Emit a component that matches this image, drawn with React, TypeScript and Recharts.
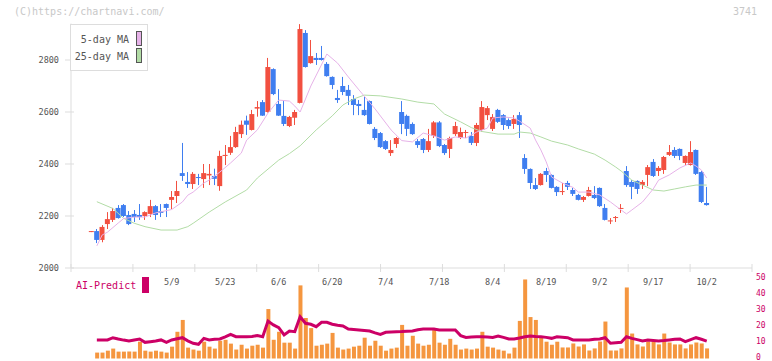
import React from 'react';
import { ComposedChart, Bar, Line, XAxis, YAxis } from 'recharts';

const FONT = '"DejaVu Sans Mono", monospace';
const RED = '#f25040';
const BLUE = '#3f7ef0';
const ORANGE = '#f5963f';
const MAGENTA = '#cc0066';
const PINK = '#e6b2e8';
const GREEN = '#b2dca6';
const AXIS = '#dddddd';

// daily candles, index 0 = 4/15 ... index 115 = 10/2
const opens = [
  2140, 2142, 2108, 2169, 2185, 2231, 2242, 2204, 2208, 2204,
  2200, 2208, 2238, 2219, 2246, 2262, 2277, 2365, 2331, 2323,
  2350, 2342, 2356, 2354, 2315, 2431, 2443, 2465, 2515, 2567,
  2531, 2613, 2638, 2600, 2765, 2631, 2585, 2546, 2578, 2635,
  2904, 2788, 2808, 2808, 2785, 2735, 2654, 2700, 2685, 2650,
  2631, 2608, 2642, 2535, 2519, 2488, 2442, 2477, 2600, 2585,
  2554, 2488, 2496, 2454, 2508, 2560, 2473, 2458, 2515, 2500,
  2521, 2508, 2481, 2531, 2588, 2535, 2608, 2588, 2569, 2554,
  2588, 2423, 2381, 2319, 2319, 2373, 2358, 2312, 2292, 2327,
  2300, 2281, 2262, 2277, 2281, 2308, 2231, 2181, 2195, 2229,
  2373, 2331, 2335, 2319, 2358, 2408, 2373, 2377, 2435, 2454,
  2458, 2404, 2396, 2454, 2369, 2250,
];
const highs = [
  2142, 2150, 2165, 2215, 2231, 2242, 2246, 2219, 2223, 2246,
  2218, 2262, 2242, 2246, 2248, 2296, 2335, 2481, 2369, 2369,
  2362, 2400, 2400, 2382, 2451, 2473, 2508, 2543, 2567, 2586,
  2608, 2642, 2646, 2808, 2768, 2688, 2642, 2585, 2608, 2938,
  2915, 2877, 2827, 2854, 2792, 2737, 2685, 2735, 2704, 2665,
  2646, 2658, 2644, 2542, 2523, 2492, 2492, 2504, 2642, 2590,
  2560, 2496, 2500, 2535, 2565, 2565, 2477, 2505, 2562, 2540,
  2531, 2523, 2558, 2642, 2623, 2592, 2612, 2592, 2575, 2588,
  2600, 2438, 2383, 2346, 2365, 2385, 2360, 2315, 2327, 2335,
  2308, 2285, 2277, 2312, 2315, 2310, 2246, 2192, 2200, 2246,
  2392, 2338, 2337, 2338, 2396, 2419, 2392, 2431, 2473, 2465,
  2460, 2433, 2488, 2456, 2373, 2312,
];
const lows = [
  2140, 2096, 2099, 2150, 2177, 2190, 2196, 2165, 2177, 2185,
  2185, 2196, 2185, 2196, 2196, 2227, 2250, 2335, 2308, 2304,
  2319, 2308, 2319, 2319, 2297, 2396, 2435, 2462, 2500, 2512,
  2529, 2582, 2585, 2598, 2665, 2585, 2546, 2542, 2550, 2633,
  2771, 2786, 2781, 2798, 2736, 2688, 2635, 2665, 2627, 2588,
  2588, 2585, 2552, 2492, 2462, 2454, 2431, 2462, 2515, 2508,
  2512, 2462, 2442, 2446, 2500, 2465, 2435, 2423, 2508, 2496,
  2500, 2473, 2469, 2525, 2569, 2527, 2558, 2531, 2535, 2535,
  2500, 2362, 2304, 2300, 2317, 2331, 2306, 2277, 2281, 2300,
  2277, 2260, 2254, 2275, 2265, 2235, 2183, 2169, 2177, 2212,
  2312, 2265, 2285, 2304, 2315, 2350, 2354, 2362, 2431, 2423,
  2415, 2396, 2394, 2358, 2250, 2240,
];
const closes = [
  2142, 2108, 2158, 2188, 2219, 2192, 2200, 2169, 2196, 2196,
  2215, 2238, 2204, 2212, 2231, 2273, 2296, 2354, 2323, 2362,
  2346, 2365, 2362, 2343, 2431, 2435, 2465, 2523, 2551, 2551,
  2592, 2619, 2586, 2773, 2669, 2586, 2554, 2581, 2600, 2919,
  2773, 2815, 2800, 2800, 2738, 2704, 2646, 2677, 2662, 2627,
  2623, 2588, 2554, 2500, 2465, 2458, 2454, 2500, 2554, 2535,
  2515, 2473, 2454, 2488, 2560, 2469, 2442, 2500, 2546, 2523,
  2523, 2481, 2550, 2619, 2615, 2581, 2562, 2550, 2546, 2573,
  2550, 2381, 2327, 2304, 2362, 2358, 2308, 2292, 2296, 2312,
  2285, 2262, 2273, 2300, 2269, 2238, 2185, 2183, 2196, 2231,
  2319, 2312, 2304, 2331, 2388, 2354, 2385, 2427, 2446, 2431,
  2431, 2431, 2446, 2362, 2254, 2242,
];

// moving averages: [candle index, price]
const ma5Pts: [number, number][] = [
  [1, 2085], [2, 2127], [3, 2138], [5, 2173], [6, 2190], [8, 2196], [10, 2196], [12, 2212],
  [15, 2225], [17, 2254], [18, 2280], [19, 2292], [21, 2327], [22, 2338], [24, 2369], [26, 2404],
  [28, 2442], [29, 2492], [31, 2531], [33, 2596], [35, 2646], [37, 2642], [38, 2623], [39, 2600],
  [41, 2700], [44, 2823], [46, 2788], [48, 2735], [50, 2685], [53, 2612], [56, 2531], [58, 2490],
  [60, 2485], [62, 2519], [64, 2508], [66, 2492], [68, 2504], [70, 2500], [72, 2523], [74, 2538],
  [75, 2577], [77, 2581], [79, 2577], [80, 2565], [82, 2538], [83, 2492], [84, 2454], [85, 2408],
  [86, 2350], [88, 2327], [90, 2310], [91, 2292], [93, 2292], [95, 2281], [97, 2254], [99, 2223],
  [100, 2208], [101, 2223], [103, 2254], [105, 2304], [106, 2338], [108, 2358], [110, 2385],
  [112, 2404], [113, 2392], [114, 2377], [115, 2346],
];
const ma25Pts: [number, number][] = [
  [1, 2255], [4, 2229], [6, 2191], [8, 2172], [10, 2159], [13, 2146], [16, 2146], [18, 2159],
  [19, 2172], [22, 2215], [25, 2254], [29, 2300], [31, 2346], [35, 2415], [37, 2440], [39, 2470],
  [42, 2531], [45, 2585], [47, 2627], [49, 2650], [51, 2665], [54, 2662], [58, 2650], [61, 2638],
  [64, 2631], [66, 2592], [69, 2562], [71, 2540], [73, 2525], [76, 2515], [79, 2515], [80, 2523],
  [82, 2519], [84, 2504], [86, 2488], [89, 2473], [91, 2458], [94, 2438], [96, 2415], [98, 2388],
  [99, 2373], [101, 2338], [103, 2319], [105, 2300], [107, 2296], [109, 2304], [111, 2312],
  [113, 2319], [115, 2319],
];

// AI-Predict panel (index 0 has none)
const vols = [
  null,
  3.7, 3.7, 4.9, 6.2, 4.3, 4.3, 4.3, 4.3, 10.5, 4.9,
  4.3, 4.9, 4.3, 3.7, 7.4, 16.7, 24.1, 6.8, 5.6, 4.9,
  10.5, 7.4, 6.2, 11.1, 11.7, 9.3, 5.6, 8.6, 6.2, 8.0,
  8.6, 6.8, 30.9, 11.7, 16.7, 9.9, 9.9, 6.2, 45.7, 25.3,
  19.0, 8.0, 8.6, 9.3, 16.0, 6.8, 5.6, 6.2, 7.4, 8.0,
  13.0, 8.0, 11.1, 8.0, 4.9, 6.2, 6.8, 21.0, 8.0, 14.2,
  9.3, 8.0, 8.6, 17.9, 9.9, 8.6, 12.3, 8.6, 5.6, 6.2,
  5.6, 6.2, 16.7, 7.4, 6.8, 5.6, 4.9, 3.1, 6.8, 23.5,
  49.4, 25.9, 24.1, 13.0, 10.5, 8.6, 10.5, 6.9, 6.9, 9.4,
  7.5, 8.8, 5.0, 6.3, 10.6, 23.1, 5.0, 5.0, 6.3, 44.4,
  15.6, 8.8, 7.5, 10.6, 10.6, 8.8, 15.6, 10.0, 8.8, 8.8,
  6.3, 8.8, 10.0, 9.4, 6.3,
];
const aiLine = [
  null,
  11.6, 11.6, 11.6, 13.0, 12.2, 11.5, 10.9, 11.6, 12.2, 10.1,
  10.5, 10.9, 11.6, 10.1, 11.6, 12.3, 13.0, 11.0, 9.5, 8.9,
  12.6, 11.6, 12.0, 12.2, 13.5, 15.1, 13.6, 13.6, 13.6, 13.8,
  14.3, 13.6, 23.4, 21.0, 19.3, 14.7, 17.2, 16.8, 26.1, 22.0,
  21.4, 19.9, 22.6, 22.6, 21.4, 20.8, 20.3, 18.4, 18.1, 17.8,
  17.5, 17.2, 16.0, 15.1, 16.4, 16.6, 16.7, 16.8, 17.0, 17.2,
  18.0, 18.4, 18.4, 18.4, 17.8, 17.8, 17.8, 17.8, 14.3, 13.2,
  13.4, 13.6, 13.6, 13.4, 13.2, 14.1, 13.2, 12.2, 12.2, 12.8,
  13.6, 14.1, 13.8, 13.6, 13.2, 12.6, 13.6, 13.3, 13.0, 11.6,
  11.6, 11.6, 11.6, 12.0, 12.2, 13.0, 9.5, 9.8, 10.1, 13.6,
  12.6, 11.8, 10.9, 11.6, 11.3, 10.9, 11.2, 11.6, 12.0, 12.2,
  10.5, 11.8, 13.0, 12.0, 10.9,
];

const dateLabels = ['5/9', '5/23', '6/6', '6/20', '7/4', '7/18', '8/4', '8/19', '9/2', '9/17', '10/2'];
const dateLabelIdx = [15, 25, 35, 45, 55, 65, 75, 85, 95, 105, 115];
const priceTicks = [2000, 2200, 2400, 2600, 2800];
const aiTicks = [0, 10, 20, 30, 40, 50];

const X_MIN = -3.83;
const X_MAX = 123.46;
const gridTicks = Array.from({ length: 12 }, (_, k) => X_MIN + (k * (X_MAX - X_MIN)) / 11);

const ma5Map = new Map(ma5Pts);
const ma25Map = new Map(ma25Pts);

const rows = opens.map((o, i) => ({
  i,
  o,
  h: highs[i],
  l: lows[i],
  c: closes[i],
  range: [lows[i], highs[i]],
  ma5: ma5Map.get(i) ?? null,
  ma25: ma25Map.get(i) ?? null,
  vol: vols[i],
  ai: aiLine[i],
}));

const Candle = (props: any) => {
  const { x, y, width, height, payload } = props;
  if (!payload) return null;
  const { o, h, l, c } = payload;
  const py = (v: number) => y + ((h - v) / (h - l)) * height;
  const color = c > o ? RED : BLUE;
  const top = Math.min(py(o), py(c));
  const bh = Math.max(Math.abs(py(o) - py(c)), 1);
  const cx = Math.round(x + width / 2 - 0.5);
  return (
    <g>
      <rect x={cx} y={y} width={1} height={Math.max(height, 1)} fill={color} />
      <rect x={x} y={top} width={width} height={bh} fill={color} />
    </g>
  );
};

const GridTick = (props: any) => {
  const { x, y } = props;
  return <line x1={x} x2={x} y1={y - 4} y2={y + 4} stroke={AXIS} strokeWidth={1} />;
};

const PriceTick = (props: any) => {
  const { x, y, payload } = props;
  return (
    <g>
      <line x1={x - 6} x2={x + 3} y1={y} y2={y} stroke={AXIS} />
      <text x={x - 12} y={y} textAnchor="end" dominantBaseline="central" fontSize={8.5} fontFamily={FONT} fill="#555">
        {payload.value}
      </text>
    </g>
  );
};

const DateTick = (props: any) => {
  const { x, payload } = props;
  const k = dateLabelIdx.indexOf(payload.value);
  return (
    <text x={x} y={14} textAnchor="middle" dominantBaseline="central" fontSize={8.5} fontFamily={FONT} fill="#555">
      {dateLabels[k]}
    </text>
  );
};

const AiTick = (props: any) => {
  const { x, y, payload } = props;
  return (
    <text x={x + 4} y={y - 1.5} textAnchor="start" dominantBaseline="central" fontSize={8} fontFamily={FONT} fill={MAGENTA}>
      {payload.value}
    </text>
  );
};

const App: React.FC = () => {
  return (
    <div style={{ position: 'absolute', left: 0, top: 0, width: 772, height: 361, background: '#fff', fontFamily: FONT }}>
      <div style={{ position: 'absolute', left: 0, top: 0 }}>
        <ComposedChart width={772} height={300} data={rows} margin={{ top: 23.6, right: 20, bottom: 0, left: 0 }}>
          <XAxis
            dataKey="i"
            type="number"
            domain={[X_MIN, X_MAX]}
            ticks={gridTicks}
            interval={0}
            allowDataOverflow
            axisLine={{ stroke: AXIS }}
            tickLine={false}
            tickSize={0}
            tickMargin={0}
            height={32}
            tick={<GridTick />}
          />
          <YAxis
            domain={[2000, 2940]}
            ticks={priceTicks}
            interval={0}
            allowDataOverflow
            width={71}
            axisLine={{ stroke: AXIS }}
            tickLine={false}
            tickSize={0}
            tickMargin={0}
            tick={<PriceTick />}
          />
          <Bar dataKey="range" barSize={5} shape={(p: any) => <Candle {...p} />} isAnimationActive={false} />
          <Line type="linear" dataKey="ma25" stroke={GREEN} strokeWidth={1} dot={false} connectNulls isAnimationActive={false} />
          <Line type="linear" dataKey="ma5" stroke={PINK} strokeWidth={1} dot={false} connectNulls isAnimationActive={false} />
        </ComposedChart>
      </div>

      <div style={{ position: 'absolute', left: 0, top: 268 }}>
        <ComposedChart width={772} height={93} data={rows} margin={{ top: 9.5, right: 0, bottom: 2.5, left: 71 }}>
          <XAxis
            dataKey="i"
            type="number"
            orientation="top"
            domain={[X_MIN, X_MAX]}
            ticks={dateLabelIdx}
            interval={0}
            allowDataOverflow
            height={1}
            axisLine={false}
            tickLine={false}
            tick={<DateTick />}
          />
          <YAxis
            orientation="right"
            domain={[0, 50]}
            ticks={aiTicks}
            interval={0}
            width={20}
            axisLine={false}
            tickLine={false}
            tickSize={0}
            tickMargin={0}
            tick={<AiTick />}
          />
          <Bar dataKey="vol" barSize={4} fill={ORANGE} isAnimationActive={false} />
          <Line type="linear" dataKey="ai" stroke={MAGENTA} strokeWidth={3} dot={false} isAnimationActive={false} />
        </ComposedChart>
      </div>

      <div style={{ position: 'absolute', left: 14, top: 5, fontSize: 10, lineHeight: '14px', color: '#c8c8c8', whiteSpace: 'nowrap' }}>
        (C)https://chartnavi.com/
      </div>
      <div style={{ position: 'absolute', left: 733, top: 5, fontSize: 10, lineHeight: '14px', color: '#c8c8c8' }}>3741</div>

      <div style={{ position: 'absolute', left: 70, top: 24, width: 78, height: 47, boxSizing: 'border-box', border: `1px solid ${AXIS}`, background: '#fff' }}>
        <div style={{ position: 'absolute', right: 18, top: 9, fontSize: 10, lineHeight: '12px', color: '#555', whiteSpace: 'nowrap' }}>5-day MA</div>
        <div style={{ position: 'absolute', left: 65, top: 6, width: 6, height: 15, boxSizing: 'border-box', border: '1px solid #555', background: PINK }} />
        <div style={{ position: 'absolute', right: 18, top: 26, fontSize: 10, lineHeight: '12px', color: '#555', whiteSpace: 'nowrap' }}>25-day MA</div>
        <div style={{ position: 'absolute', left: 65, top: 23, width: 6, height: 15, boxSizing: 'border-box', border: '1px solid #555', background: GREEN }} />
      </div>

      <div style={{ position: 'absolute', left: 76, top: 280, fontSize: 10, lineHeight: '12px', color: MAGENTA, whiteSpace: 'nowrap' }}>AI-Predict</div>
      <div style={{ position: 'absolute', left: 142, top: 277, width: 7, height: 16, background: MAGENTA }} />
    </div>
  );
};

export default App;
